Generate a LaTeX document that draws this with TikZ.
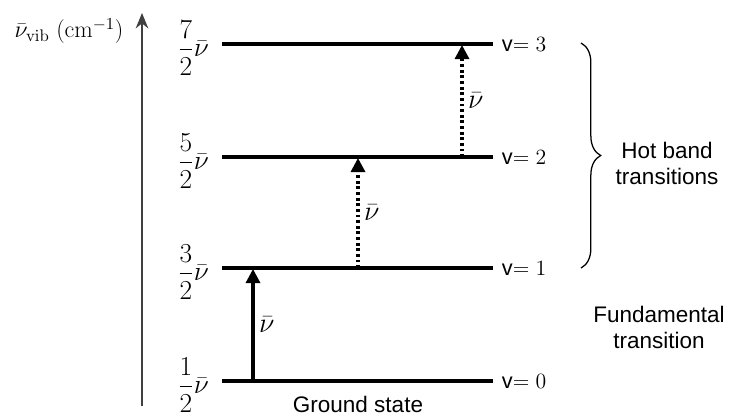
\RequirePackage{fix-cm}
\documentclass[tikz,border=0pt]{standalone}
\usepackage[no-math]{fontspec}
\setmainfont{Liberation Sans}
\usepackage{amsmath}
\usetikzlibrary{arrows.meta, positioning, decorations.pathreplacing}

\begin{document}
\begin{tikzpicture}[
    x=0.025cm, y=0.025cm,
    level/.style={line width=2.2pt},
    trans/.style={-{Triangle[length=10pt, width=10pt]}, line width=2.2pt},
    hot/.style={trans, dash pattern=on 2pt off 2pt},
    axis/.style={-{Stealth[length=11pt, width=9pt]}, line width=0.9pt, black!75},
    brace/.style={decorate, decoration={brace, amplitude=14pt}, line width=0.9pt},
    energy/.style={anchor=east, inner sep=2pt, font=\fontsize{19.5}{23}\selectfont},
    quant/.style={anchor=west, font=\fontsize{15.5}{18}\selectfont},
    lbl/.style={font=\fontsize{20}{24}\selectfont, midway},
    txt/.style={font=\fontsize{16}{18.5}\selectfont, align=center}
]
    \useasboundingbox (0,0) rectangle (734,417);

    % energy axis
    \coordinate (ax0) at (142,11);
    \coordinate (ax1) at (142,404);
    \draw[axis] (ax0) -- (ax1);
    \node[font=\fontsize{17}{20}\selectfont] (axlbl) at (69,386) {$\bar{\nu}_{\mathrm{vib}}\ (\mathrm{cm}^{-1})$};

    % vibrational levels
    \coordinate (v0w) at (222,36);  \coordinate (v0e) at (493,36);
    \coordinate (v1w) at (222,149); \coordinate (v1e) at (493,149);
    \coordinate (v2w) at (222,260); \coordinate (v2e) at (493,260);
    \coordinate (v3w) at (222,373); \coordinate (v3e) at (493,373);
    \draw[level] (v0w) -- (v0e);
    \draw[level] (v1w) -- (v1e);
    \draw[level] (v2w) -- (v2e);
    \draw[level] (v3w) -- (v3e);

    \node[energy] (e0) at (212,32)  {$\dfrac{1}{2}\bar{\nu}$};
    \node[energy] (e1) at (212,145) {$\dfrac{3}{2}\bar{\nu}$};
    \node[energy] (e2) at (212,256) {$\dfrac{5}{2}\bar{\nu}$};
    \node[energy] (e3) at (212,369) {$\dfrac{7}{2}\bar{\nu}$};

    \node[quant] (q0) at (497,36)  {v$=0$};
    \node[quant] (q1) at (497,149) {v$=1$};
    \node[quant] (q2) at (497,260) {v$=2$};
    \node[quant] (q3) at (497,373) {v$=3$};

    % transitions
    \coordinate (f0) at (253,36);  \coordinate (f1) at (253,148);
    \coordinate (h1) at (358,149); \coordinate (h2) at (358,259);
    \coordinate (g2) at (462,260); \coordinate (g3) at (462,372);
    \draw[trans] (f0) -- node[lbl, right] (n01) {$\bar{\nu}$} (f1);
    \draw[hot] (h1) -- node[lbl, right] (n12) {$\bar{\nu}$} (h2);
    \draw[hot] (g2) -- node[lbl, right] (n23) {$\bar{\nu}$} (g3);

    % brace and notes
    \coordinate (br3) at (581,374);
    \coordinate (br1) at (581,149);
    \draw[brace] (br3) -- (br1);
    \node[txt] (hb) at (667,254) {Hot band\\transitions};
    \node[txt] (fund) at (659,90) {Fundamental\\transition};
    \node[txt] (gs) at (358,13) {Ground state};
\end{tikzpicture}
\end{document}
